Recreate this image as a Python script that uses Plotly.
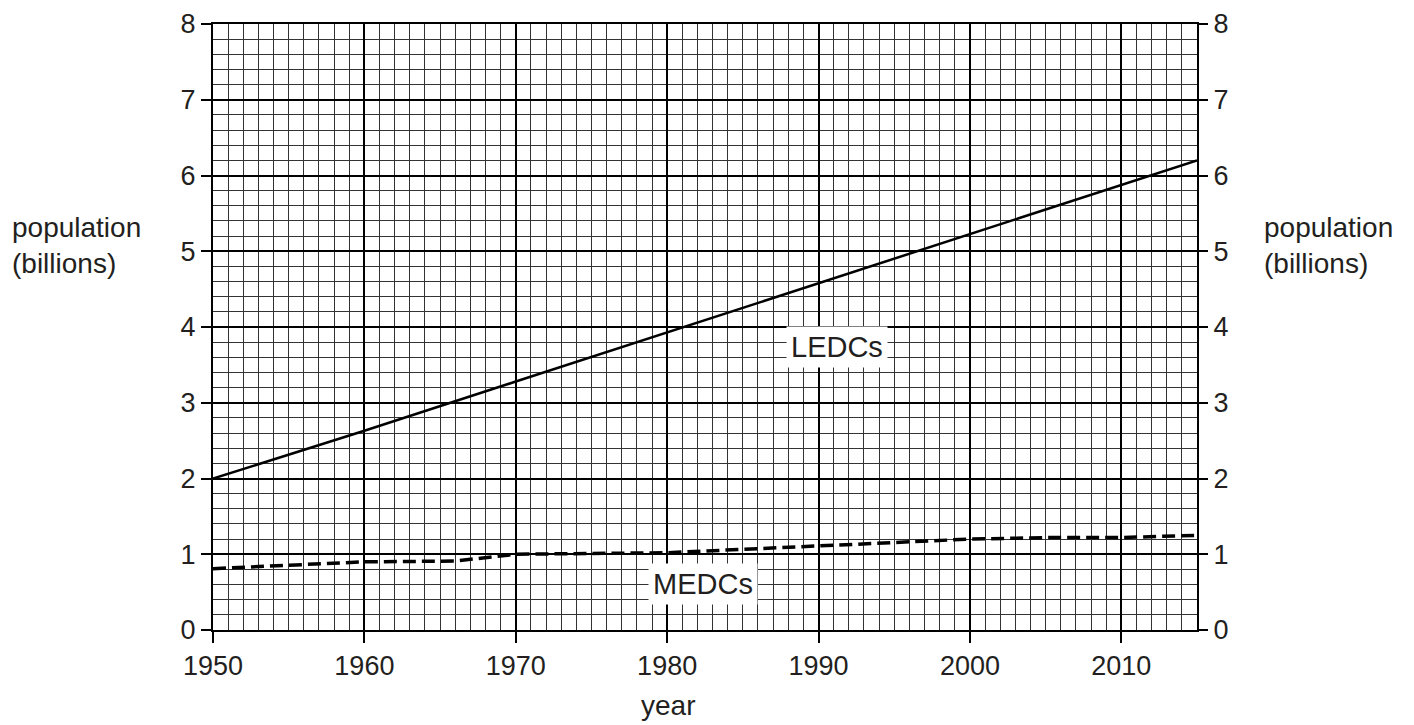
import plotly.graph_objects as go

years_ledc = [1950, 1960, 1970, 1980, 1990, 2000, 2010, 2015]
ledc = [2.0, 2.63, 3.28, 3.93, 4.58, 5.23, 5.88, 6.2]

years_medc = [1950, 1955, 1960, 1966, 1970, 1980, 1990, 2000, 2005, 2010, 2015]
medc = [0.81, 0.86, 0.9, 0.91, 1.0, 1.02, 1.11, 1.2, 1.22, 1.22, 1.25]

x_ticks = [1950, 1960, 1970, 1980, 1990, 2000, 2010]
y_ticks = [0, 1, 2, 3, 4, 5, 6, 7, 8]

FAM = "Liberation Sans, Arial, sans-serif"
tick_font = dict(family=FAM, size=27, color="#231f20")
font = dict(family=FAM, size=28, color="#231f20")
label_font = dict(family=FAM, size=29, color="#231f20")

fig = go.Figure()
fig.add_trace(go.Scatter(x=years_ledc, y=ledc, mode="lines",
                         line=dict(color="black", width=2.5), showlegend=False))
fig.add_trace(go.Scatter(x=years_medc, y=medc, mode="lines",
                         line=dict(color="black", width=3.5, dash="13px,6px"), showlegend=False))
# invisible trace for the right axis
fig.add_trace(go.Scatter(x=[1950], y=[0], yaxis="y2", mode="markers",
                         marker=dict(opacity=0), showlegend=False, hoverinfo="skip"))

fig.update_layout(
    width=1398, height=717,
    margin=dict(l=205, r=209, t=16, b=95, autoexpand=False),
    plot_bgcolor="white", paper_bgcolor="white",
    font=font,
    xaxis=dict(range=[1950, 2015], tickmode="array", tickvals=x_ticks,
               ticks="outside", ticklen=11, tickwidth=2, tickcolor="black",
               showgrid=True, gridcolor="black", gridwidth=2,
               showline=True, linecolor="black", linewidth=2, mirror=True,
               zeroline=False, automargin=False,
               minor=dict(dtick=1, tick0=1950, showgrid=True, gridcolor="#333", gridwidth=1, ticks=""),
               tickfont=tick_font),
    yaxis=dict(range=[0, 8], tickmode="array", tickvals=y_ticks,
               ticks="outside", ticklen=10, tickwidth=2, tickcolor="black",
               showgrid=True, gridcolor="black", gridwidth=2,
               showline=True, linecolor="black", linewidth=2, mirror=True,
               zeroline=False, automargin=False,
               minor=dict(dtick=0.2, tick0=0, showgrid=True, gridcolor="#333", gridwidth=1, ticks=""),
               tickfont=tick_font),
    yaxis2=dict(range=[0, 8], overlaying="y", side="right", tickmode="array", tickvals=y_ticks,
                ticks="outside", ticklen=10, tickwidth=2, tickcolor="black",
                showgrid=False, zeroline=False, showline=False, automargin=False,
                tickfont=tick_font),
)

fig.layout.annotations = [
    dict(text="population<br>(billions)", x=-0.2063, y=0.635, xref="paper", yref="paper",
         xanchor="left", yanchor="middle", showarrow=False, font=font, align="left"),
    dict(text="population<br>(billions)", x=1.0661, y=0.635, xref="paper", yref="paper",
         xanchor="left", yanchor="middle", showarrow=False, font=font, align="left"),
    dict(text="year", x=0.462, y=-0.1254, xref="paper", yref="paper",
         xanchor="center", yanchor="middle", showarrow=False, font=font),
    dict(text="LEDCs", x=1991.2, y=3.74, xref="x", yref="y", showarrow=False,
         font=label_font, bgcolor="white", borderpad=4),
    dict(text="MEDCs", x=1982.4, y=0.61, xref="x", yref="y", showarrow=False,
         font=label_font, bgcolor="white", borderpad=4),
]

fig.write_html("out.html")
